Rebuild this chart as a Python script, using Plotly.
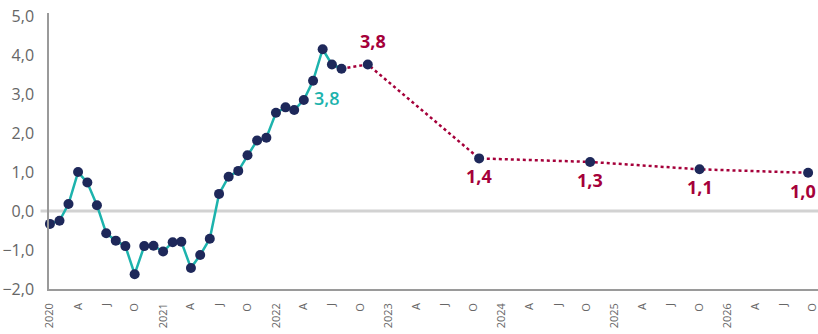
import plotly.graph_objects as go
import pandas as pd

# ---------------- data ----------------
months = pd.date_range("2020-01-01", periods=32, freq="MS")
actual = [-0.33, -0.25, 0.18, 1.00, 0.73, 0.15, -0.57, -0.76, -0.90, -1.62,
          -0.90, -0.89, -1.04, -0.80, -0.79, -1.46, -1.13, -0.71, 0.44, 0.88,
          1.03, 1.43, 1.81, 1.88, 2.52, 2.66, 2.59, 2.85, 3.34, 4.15, 3.76, 3.65]
actual_label = "3,8"

fc_dates = ["2022-10-25", "2023-10-20", "2024-10-13", "2025-10-02", "2026-09-18"]
fc_values = [3.76, 1.35, 1.26, 1.07, 0.98]
fc_labels = ["3,8", "1,4", "1,3", "1,1", "1,0"]

ytick_vals = [-2, -1, 0, 1, 2, 3, 4, 5]
quarter_letters = {1: None, 4: "A", 7: "J", 10: "O"}
xtick_vals = pd.date_range("2020-01-01", "2026-10-01", freq="QS")
xtick_text = [str(d.year) if quarter_letters[d.month] is None else quarter_letters[d.month]
              for d in xtick_vals]

# ---------------- style ----------------
TEAL = "#1db3ad"
NAVY = "#1e285a"
CRIMSON = "#a5003a"
GRAY_TXT = "#666666"
FONT = "Open Sans"

fig = go.Figure()

fig.add_trace(go.Scatter(x=months, y=actual, mode="lines",
                         line=dict(color=TEAL, width=2.5), hoverinfo="skip"))

fc_x = pd.to_datetime(fc_dates)
dot_x = [months[-1]] + list(fc_x)
dot_y = [actual[-1]] + fc_values
fig.add_trace(go.Scatter(x=dot_x, y=dot_y, mode="lines",
                         line=dict(color=CRIMSON, width=2.5, dash="dot"),
                         hoverinfo="skip"))

fig.add_trace(go.Scatter(x=months, y=actual, mode="markers",
                         marker=dict(color=NAVY, size=10), cliponaxis=False))
fig.add_trace(go.Scatter(x=fc_x, y=fc_values, mode="markers",
                         marker=dict(color=NAVY, size=10), cliponaxis=False))

# forecast labels
n = len(fc_labels)
for i, (xd, yv, lab) in enumerate(zip(fc_x, fc_values, fc_labels)):
    above = (i == 0)
    last = (i == n - 1)
    fig.add_annotation(x=xd, y=yv, text=lab, showarrow=False,
                       xanchor="right" if last else "center",
                       xshift=(10 if last else (5 if above else 0)),
                       yshift=(23 if above else -18),
                       font=dict(family=FONT, size=18, color=CRIMSON, weight="bold"))

fig.add_annotation(x=months[-1], y=actual[-1], text=actual_label, showarrow=False,
                   xshift=-15, yshift=-29,
                   font=dict(family=FONT, size=18, color=TEAL, weight=600))

fig.add_shape(type="line", xref="paper", yref="y", x0=-0.011, x1=1, y0=0, y1=0,
              line=dict(color="#d2d2d2", width=3), layer="below")

fig.update_layout(
    width=818, height=334,
    margin=dict(l=49, r=0, t=13, b=45),
    paper_bgcolor="white", plot_bgcolor="white",
    showlegend=False,
    separators=",.",
    font=dict(family=FONT, color=GRAY_TXT),
)
fig.update_yaxes(range=[-2, 5.08], tickvals=ytick_vals, tickformat=".1f",
                 showgrid=False, zeroline=False, showline=True,
                 linecolor="#9a9a9a", linewidth=1.5, ticks="",
                 ticklabelstandoff=10,
                 tickfont=dict(family=FONT, size=16, color=GRAY_TXT))
fig.update_xaxes(type="date", range=["2019-12-29", "2026-10-20"],
                 tickvals=xtick_vals, ticktext=xtick_text, tickangle=-90,
                 showgrid=False, zeroline=False, showline=True,
                 linecolor="#9a9a9a", linewidth=1.5, ticks="",
                 ticklabelstandoff=8, ticklabeloverflow="allow",
                 tickfont=dict(family=FONT, size=11, color=GRAY_TXT))

fig.write_html("out.html")
